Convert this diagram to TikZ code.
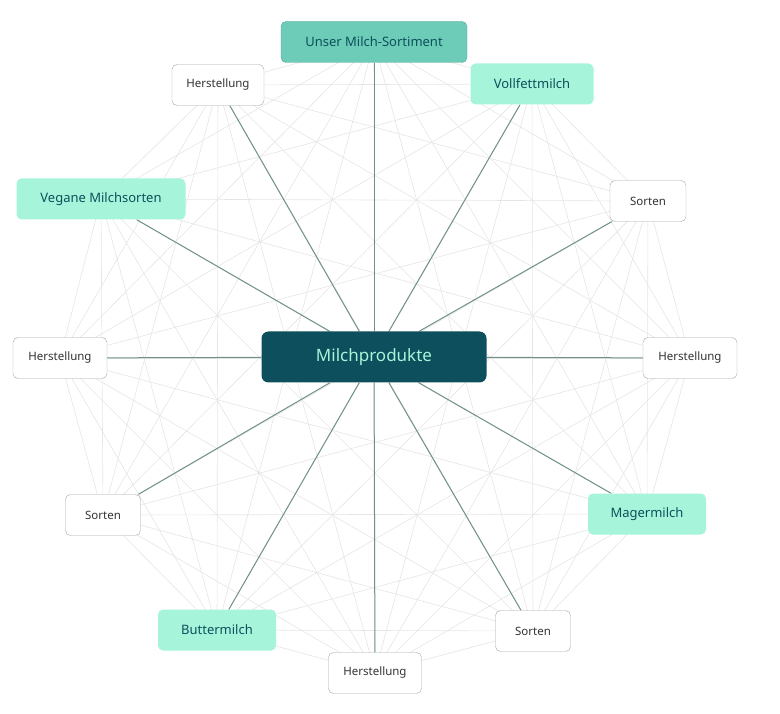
\documentclass[tikz,border=0pt]{standalone}
\usepackage{fontspec}
\setmainfont{Noto Sans}
\usetikzlibrary{backgrounds}
\definecolor{darkteal}{HTML}{0D4F5C}
\definecolor{lightmint}{HTML}{A6F5DA}
\definecolor{headmint}{HTML}{6CCCB8}
\definecolor{spoke}{HTML}{6F918B}
\tikzset{
  base/.style={rounded corners=5pt, minimum height=41pt, inner xsep=10pt, font=\fontsize{13}{15}\selectfont},
  plain/.style={base, draw=gray!70, fill=white, text=black!80, font=\fontsize{11.5}{14}\selectfont},
  topic/.style={base, fill=lightmint, text=darkteal},
  head/.style={base, fill=headmint, draw=headmint!80!black, text=darkteal},
  center/.style={rounded corners=7pt, fill=darkteal, text=lightmint, minimum width=225pt, minimum height=51pt, font=\fontsize{17}{20}\selectfont},
  mesh/.style={black!10, line width=0.6pt},
  link/.style={spoke, line width=1pt}
}
\begin{document}
\begin{tikzpicture}[x=1pt,y=-1pt]
\useasboundingbox (0,0) rectangle (780,714);

\node[center] (milch) at (374,357) {Milchprodukte};

\node[head, minimum width=186pt] (o1) at (374,42) {Unser Milch-Sortiment};
\node[topic, minimum width=123pt] (o2) at (532,84) {Vollfettmilch};
\node[plain, minimum width=76pt] (o3) at (648,201) {Sorten};
\node[plain, minimum width=94pt] (o4) at (690,358) {Herstellung};
\node[topic, minimum width=118pt] (o5) at (647,514) {Magermilch};
\node[plain, minimum width=75pt] (o6) at (533,631) {Sorten};
\node[plain, minimum width=93pt] (o7) at (375,673) {Herstellung};
\node[topic, minimum width=118pt] (o8) at (217,630) {Buttermilch};
\node[plain, minimum width=75pt] (o9) at (103,515) {Sorten};
\node[plain, minimum width=94pt] (o10) at (60,358) {Herstellung};
\node[topic, minimum width=169pt] (o11) at (101,199) {Vegane Milchsorten};
\node[plain, minimum width=92pt] (o12) at (218,85) {Herstellung};

\begin{pgfonlayer}{background}
% faint mesh
\foreach \i in {1,...,11} {
  \pgfmathtruncatemacro{\first}{\i+1}
  \foreach \j in {\first,...,12}
    \draw[mesh] (o\i.center) -- (o\j.center);
}
% spokes
\foreach \i in {1,...,12}
  \draw[link] (milch) -- (o\i);
\end{pgfonlayer}
\end{tikzpicture}
\end{document}
